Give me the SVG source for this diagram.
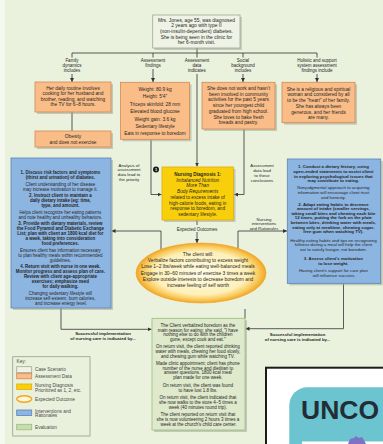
<svg xmlns="http://www.w3.org/2000/svg" width="383" height="444" viewBox="0 0 383 444">
<defs>
<style>
.t{font-family:"Liberation Sans",Arial,sans-serif;fill:#262626;text-anchor:middle}
.lb{font-size:4.5px}
.ob{font-size:4.8px}
.bl{font-size:4.45px}
.rb{font-size:4.35px}
.ev{font-size:4.5px}
.b{font-weight:bold}
.i{font-style:italic}
.ln{stroke:#333;stroke-width:0.8;fill:none}
.sh{fill:#9fa797;opacity:0.55}
.case{fill:#eef3e5;stroke:#a3a696;stroke-width:0.8}
.org{fill:#fbbd87;stroke:#cf8a55;stroke-width:0.8}
.yel{fill:#f9cf0c;stroke:#e1ae08;stroke-width:0.8}
.blu{fill:#8db5e2;stroke:#5a83b8;stroke-width:0.8}
.grn{fill:#dfe9cb;stroke:#98bd7d;stroke-width:0.8}
.key{font-family:"Liberation Sans",Arial,sans-serif;font-size:4.7px;fill:#4a4a4a}
</style>
<marker id="ar" viewBox="0 0 6 6" markerWidth="4" markerHeight="4" refX="6" refY="3" orient="auto" markerUnits="userSpaceOnUse">
<path d="M0,0 L6,3 L0,6 z" fill="#333"/>
</marker>
<radialGradient id="eg" cx="50%" cy="50%" r="50%">
<stop offset="0" stop-color="#fffbe6"/>
<stop offset="0.72" stop-color="#fdf0b8"/>
<stop offset="0.88" stop-color="#f9cd62"/>
<stop offset="1" stop-color="#f2a623"/>
</radialGradient>
</defs>
<rect x="0" y="0" width="383" height="444" fill="#eaf1dd"/>
<rect x="0" y="0" width="5" height="444" fill="#f5f8ef"/>

<g id="connectors">
<line class="ln" x1="72" y1="53" x2="317" y2="53"/>
<line class="ln" x1="197" y1="48" x2="197" y2="57.5"/>
<line class="ln" x1="72" y1="53" x2="72" y2="57.5"/>
<line class="ln" x1="153" y1="53" x2="153" y2="57.5"/>
<line class="ln" x1="243" y1="53" x2="243" y2="57.5"/>
<line class="ln" x1="317" y1="53" x2="317" y2="57.5"/>
<line class="ln" x1="72" y1="74" x2="72" y2="82" marker-end="url(#ar)"/>
<line class="ln" x1="153" y1="69" x2="153" y2="82" marker-end="url(#ar)"/>
<line class="ln" x1="243" y1="74" x2="243" y2="82" marker-end="url(#ar)"/>
<line class="ln" x1="317" y1="74" x2="317" y2="82" marker-end="url(#ar)"/>
<line class="ln" x1="197" y1="74" x2="197" y2="166.5" marker-end="url(#ar)"/>
<line class="ln" x1="72" y1="112" x2="72" y2="131"/>
<polyline class="ln" points="151,139.5 151,194.5 161.5,194.5" marker-end="url(#ar)"/>
<polyline class="ln" points="244,129 244,194.5 234,194.5" marker-end="url(#ar)"/>
<line class="ln" x1="197" y1="220" x2="197" y2="225"/>
<line class="ln" x1="197" y1="232" x2="197" y2="243" marker-end="url(#ar)"/>
<polyline class="ln" points="161,252 161,231 111.5,231" marker-end="url(#ar)"/>
<polyline class="ln" points="238,252 238,231 287,231" marker-end="url(#ar)"/>
<polyline class="ln" points="61,308 61,329.3 151.5,329.3" marker-end="url(#ar)"/>
<polyline class="ln" points="343.5,283.3 343.5,328.7 245.5,328.7" marker-end="url(#ar)"/>
<line class="ln" x1="245" y1="309" x2="245" y2="318.3"/>
</g>

<g id="labels">
<text class="t lb"><tspan x="72" y="61.5">Family</tspan><tspan x="72" y="66.8">dynamics</tspan><tspan x="72" y="72.1">includes</tspan></text>
<text class="t lb"><tspan x="153" y="62.2">Assessment</tspan><tspan x="153" y="66.9">findings</tspan></text>
<text class="t lb"><tspan x="197" y="62.2">Assessment</tspan><tspan x="197" y="66.9">data</tspan><tspan x="197" y="71.6">indicates</tspan></text>
<text class="t lb"><tspan x="243" y="62.2">Social</tspan><tspan x="243" y="66.9">background</tspan><tspan x="243" y="71.6">includes</tspan></text>
<text class="t lb"><tspan x="317" y="62.2">Holistic and support</tspan><tspan x="317" y="66.9">system assessment</tspan><tspan x="317" y="71.6">findings include</tspan></text>
<text class="t" style="font-size:4.3px"><tspan x="129" y="166.5">Analysis of</tspan><tspan x="129" y="171.4">assessment</tspan><tspan x="129" y="176.3">data lead to</tspan><tspan x="129" y="181.2">the priority</tspan></text>
<text class="t" style="font-size:4.3px"><tspan x="262" y="167">Assessment</tspan><tspan x="262" y="171.9">data lead</tspan><tspan x="262" y="176.8">to these</tspan><tspan x="262" y="181.7">conclusions</tspan></text>
<text class="t lb" x="197" y="230.7">Expected Outcomes</text>
<text class="t" style="font-size:4.3px"><tspan x="264" y="220.5">Nursing</tspan><tspan x="264" y="225">interventions</tspan><tspan x="264" y="229.5">and <tspan class="i">Rationales</tspan></tspan></text>
<text class="t b" style="font-size:4.3px"><tspan x="103" y="334.8">Successful implementation</tspan><tspan x="103" y="339.8">of nursing care is indicated by...</tspan></text>
<text class="t b" style="font-size:4.3px"><tspan x="297.5" y="335.8">Successful implementation</tspan><tspan x="297.5" y="340.8">of nursing care is indicated by...</tspan></text>
</g>

<g id="case">
<rect class="sh" x="154.5" y="17" width="87.3" height="33"/>
<rect class="case" x="152.7" y="15" width="87.3" height="33"/>
<text class="t" style="font-size:4.9px"><tspan x="196.4" y="21.7">Mrs. Jones, age 55, was diagnosed</tspan><tspan x="196.4" y="27.4">2 years ago with type II</tspan><tspan x="196.4" y="33">(non-insulin-dependent) diabetes.</tspan><tspan x="196.4" y="38.7">She is being seen in the clinic for</tspan><tspan x="196.4" y="44.4">her 6-month visit.</tspan></text>
</g>

<g id="family">
<rect class="sh" x="37" y="84" width="76" height="30"/>
<rect class="org" x="35" y="82" width="76" height="30"/>
<text class="t ob"><tspan x="73" y="90">Her daily routine involves</tspan><tspan x="73" y="95.4">cooking for her husband and</tspan><tspan x="73" y="100.8">brother, reading, and watching</tspan><tspan x="73" y="106.2">the TV for 6–8 hours.</tspan></text>
</g>

<g id="obesity">
<rect class="sh" x="37" y="133" width="76" height="16"/>
<rect class="org" x="35" y="131" width="76" height="16"/>
<text class="t ob"><tspan x="73" y="138.2">Obesity</tspan><tspan x="73" y="144.2">and does not exercise</tspan></text>
</g>

<g id="findings">
<rect class="sh" x="122.5" y="84.3" width="69" height="57"/>
<rect class="org" x="120.5" y="82.3" width="69" height="57"/>
<text class="t ob"><tspan x="155" y="91">Weight: 80.9 kg</tspan><tspan x="155" y="98.4">Height: 5'4"</tspan><tspan x="155" y="105.8">Triceps skinfold: 28 mm</tspan><tspan x="155" y="113.2">Elevated blood glucose</tspan><tspan x="155" y="120.6">Weight gain: 3.6 kg</tspan><tspan x="155" y="128">Sedentary lifestyle</tspan><tspan x="155" y="135.4">Eats in response to boredom</tspan></text>
</g>

<g id="social">
<rect class="sh" x="204" y="84.3" width="73" height="46.7"/>
<rect class="org" x="202" y="82.3" width="73" height="46.7"/>
<text class="t ob"><tspan x="238.5" y="90">She does not work and hasn't</tspan><tspan x="238.5" y="95.7">been involved in community</tspan><tspan x="238.5" y="101.4">activities for the past 5 years</tspan><tspan x="238.5" y="107.1">since her youngest child</tspan><tspan x="238.5" y="112.8">graduated from high school.</tspan><tspan x="238.5" y="118.5">She loves to bake fresh</tspan><tspan x="238.5" y="124.2">breads and pastry.</tspan></text>
</g>

<g id="holistic">
<rect class="sh" x="284" y="84.3" width="73" height="40.4"/>
<rect class="org" x="282" y="82.3" width="73" height="40.4"/>
<text class="t ob"><tspan x="318.5" y="90.7">She is a religious and spiritual</tspan><tspan x="318.5" y="96.4">woman and considered by all</tspan><tspan x="318.5" y="102.1">to be the "heart" of her family.</tspan><tspan x="318.5" y="107.8">She has always been</tspan><tspan x="318.5" y="113.5">generous, and her friends</tspan><tspan x="318.5" y="119.2">are many.</tspan></text>
</g>

<g id="diagnosis">
<rect class="sh" x="164" y="169" width="71.5" height="53"/>
<rect class="yel" x="162" y="167" width="71.5" height="53"/>
<text class="t" style="font-size:4.7px"><tspan x="197.7" y="176" class="b">Nursing Diagnosis 1:</tspan><tspan x="197.7" y="181.7" class="i">Imbalanced Nutrition</tspan><tspan x="197.7" y="187.4" class="i">More Than</tspan><tspan x="197.7" y="193.1" class="i">Body Requirements</tspan><tspan x="197.7" y="198.8">related to excess intake of</tspan><tspan x="197.7" y="204.5">high-calorie foods, eating in</tspan><tspan x="197.7" y="210.2">response to boredom, and</tspan><tspan x="197.7" y="215.9">sedentary lifestyle.</tspan></text>
<circle cx="156" cy="169.5" r="3" fill="#1a1a1a"/>
<text class="t b" x="156" y="171" style="font-size:4px;fill:#fff">1</text>
</g>

<g id="interventions-left">
<rect class="sh" x="13" y="160" width="100" height="150"/>
<rect class="blu" x="11" y="158" width="100" height="150"/>
<text class="t bl">
<tspan x="61" y="174" class="b">1. Discuss risk factors and symptoms</tspan>
<tspan x="61" y="179" class="b">(thirst and urination) of diabetes.</tspan>
<tspan x="61" y="185.5">Client understanding of her disease</tspan>
<tspan x="61" y="190.5">may increase motivation to manage it.</tspan>
<tspan x="61" y="197" class="b">2. Instruct client to maintain a</tspan>
<tspan x="61" y="202" class="b">daily dietary intake (eg: time,</tspan>
<tspan x="61" y="207" class="b">type, and amount.</tspan>
<tspan x="61" y="213.5">Helps client recognize her eating patterns</tspan>
<tspan x="61" y="218.5">and note healthy and unhealthy behaviors.</tspan>
<tspan x="61" y="225" class="b">3. Provide with dietary materials, review</tspan>
<tspan x="61" y="230" class="b">the Food Pyramid and Diabetic Exchange</tspan>
<tspan x="61" y="235" class="b">List; plan with client an 1800 kcal diet for</tspan>
<tspan x="61" y="240" class="b">a week, taking into consideration</tspan>
<tspan x="61" y="245" class="b">food preferences.</tspan>
<tspan x="61" y="251.5">Ensures client has information necessary</tspan>
<tspan x="61" y="256.5">to plan healthy meals within recommended</tspan>
<tspan x="61" y="261.5">guidelines.</tspan>
<tspan x="61" y="268" class="b">4. Return visit with nurse in one week.</tspan>
<tspan x="61" y="273" class="b">Monitor progress and assess plan of care.</tspan>
<tspan x="61" y="278" class="b">Review with client age-appropriate</tspan>
<tspan x="61" y="283" class="b">exercises; emphasize need</tspan>
<tspan x="61" y="288" class="b">for daily walking.</tspan>
<tspan x="61" y="294.5">Changing sedentary lifestyle will</tspan>
<tspan x="61" y="299.5">increase self-esteem, burn calories,</tspan>
<tspan x="61" y="304.5">and increase energy level.</tspan>
</text>
</g>

<g id="interventions-right">
<rect class="sh" x="289.3" y="161" width="93.4" height="124.3"/>
<rect class="blu" x="287.3" y="159" width="93.4" height="124.3"/>
<text class="t rb">
<tspan x="334" y="168.3" class="b">1. Conduct a dietary history, using</tspan>
<tspan x="334" y="172.9" class="b">open-ended statements to assist client</tspan>
<tspan x="334" y="177.5" class="b">in exploring psychological issues that</tspan>
<tspan x="334" y="182.1" class="b">may contribute to eating.</tspan>
<tspan x="334" y="189.2">Nonjudgmental approach to acquiring</tspan>
<tspan x="334" y="194.1">information will encourage client trust</tspan>
<tspan x="334" y="199">and honesty.</tspan>
<tspan x="334" y="205.6" class="b">2. Adapt eating habits to decrease</tspan>
<tspan x="334" y="210.2" class="b">amount of intake (smaller servings,</tspan>
<tspan x="334" y="214.8" class="b">taking small bites and chewing each bite</tspan>
<tspan x="334" y="219.4" class="b">12 times, putting the fork on the plate</tspan>
<tspan x="334" y="224" class="b">between bites, drinking water with meals,</tspan>
<tspan x="334" y="228.6" class="b">eating only at mealtime, chewing sugar-</tspan>
<tspan x="334" y="233.2" class="b">free gum when watching TV).</tspan>
<tspan x="334" y="241.5">Healthy eating habits and tips on recognizing</tspan>
<tspan x="334" y="246.2">fullness during a meal will help the client</tspan>
<tspan x="334" y="250.9">eat to satisfy hunger, not boredom.</tspan>
<tspan x="334" y="260.2" class="b">3. Assess client's motivation</tspan>
<tspan x="334" y="265.1" class="b">to lose weight.</tspan>
<tspan x="334" y="272.2">Having client's support for care plan</tspan>
<tspan x="334" y="277.1">will influence success.</tspan>
</text>
</g>

<g id="outcomes">
<ellipse cx="201" cy="273" rx="65" ry="30" fill="url(#eg)" stroke="#f0a524" stroke-width="0.6"/>
<text class="t" style="font-size:4.9px"><tspan x="198" y="255.7">The client will:</tspan><tspan x="198" y="262">Verbalize factors contributing to excess weight</tspan><tspan x="198" y="268.3">Lose 1–2 lbs/week while eating well-balanced meals</tspan><tspan x="198" y="274.6">Engage in 30–60 minutes of exercise 3 times a week</tspan><tspan x="198" y="281">Explore outside interests to decrease boredom and</tspan><tspan x="198" y="286.8">increase feeling of self worth</tspan></text>
</g>

<g id="evaluation">
<rect class="sh" x="154" y="320.3" width="93" height="111.7"/>
<rect class="grn" x="152" y="318.3" width="93" height="111.7"/>
<text class="t ev">
<tspan x="198.5" y="326.6">The Client verbalized boredom as the</tspan>
<tspan x="198.5" y="331.5">main reason for eating; she said, "I have</tspan>
<tspan x="198.5" y="336.4">nothing else to do with the children</tspan>
<tspan x="198.5" y="341.3">gone, except cook and eat."</tspan>
<tspan x="198.5" y="348.2">On return visit, the client reported drinking</tspan>
<tspan x="198.5" y="353">water with meals, chewing her food slowly,</tspan>
<tspan x="198.5" y="357.8">and chewing gum while watching TV.</tspan>
<tspan x="198.5" y="364.8">Made clinic appointment; client has phone</tspan>
<tspan x="198.5" y="369.6">number of the nurse and dietitian to</tspan>
<tspan x="198.5" y="374.4">answer questions. 1800 kcal meal</tspan>
<tspan x="198.5" y="379.4">plan made for one week.</tspan>
<tspan x="198.5" y="386.8">On return visit, the client was found</tspan>
<tspan x="198.5" y="391.6">to have lost 1.8 lbs.</tspan>
<tspan x="198.5" y="398.8">On return visit, the client indicated that</tspan>
<tspan x="198.5" y="403.7">she now walks to the store 4–5 times a</tspan>
<tspan x="198.5" y="408.6">week (40 minutes round trip).</tspan>
<tspan x="198.5" y="415.8">The client reported on return visit that</tspan>
<tspan x="198.5" y="420.7">she is now volunteering 2 hours 3 times a</tspan>
<tspan x="198.5" y="425.6">week at the church's child care center.</tspan>
</text>
</g>

<g id="key">
<rect x="12.7" y="356.7" width="77.3" height="79.3" fill="#e9f0dc" stroke="#9a9c8c" stroke-width="0.8"/>
<text class="key" x="16.5" y="362.8">Key:</text>
<rect x="16.7" y="366.7" width="15" height="6" class="case"/>
<text class="key" x="35" y="371.4">Case Scenario</text>
<rect x="16.7" y="373.3" width="15" height="5.5" class="org"/>
<text class="key" x="35" y="377.8">Assessment Data</text>
<rect x="16.7" y="384" width="15" height="5.5" class="yel"/>
<text class="key"><tspan x="35" y="386.7">Nursing Diagnosis</tspan><tspan x="35" y="391.5">Prioritized as 1, 2, etc.</tspan></text>
<ellipse cx="24.2" cy="399" rx="7.5" ry="3.2" fill="#fff6d2" stroke="#f2a623" stroke-width="1.4"/>
<text class="key" x="35" y="400.6">Expected Outcome</text>
<rect x="16.7" y="410" width="15" height="5.5" class="blu"/>
<text class="key"><tspan x="35" y="412.5">Interventions and</tspan><tspan x="35" y="417.3">Rationales</tspan></text>
<rect x="16.7" y="424.3" width="15" height="5.5" fill="#c9dcb0" stroke="#98bd7d" stroke-width="0.8"/>
<text class="key" x="35" y="428.6">Evaluation</text>
</g>

<g id="inset">
<rect x="266" y="367.7" width="130" height="90" fill="#ffffff" stroke="#1c1c1c" stroke-width="2"/>
<rect x="289.3" y="387.3" width="120" height="80" rx="18" fill="#6bc4cf"/>
<text x="301" y="418.5" style="font-family:'Liberation Sans',Arial,sans-serif;font-weight:bold;font-size:26.5px;fill:#232d35">UNCO</text>
<rect x="302" y="441.5" width="90" height="5" fill="#ffffff"/>
<path d="M348,444 L350,439 L354,438 L356,436 L359,438 L362,437 L364,440 L366,444 Z" fill="#7d72c4"/>
</g>
</svg>
